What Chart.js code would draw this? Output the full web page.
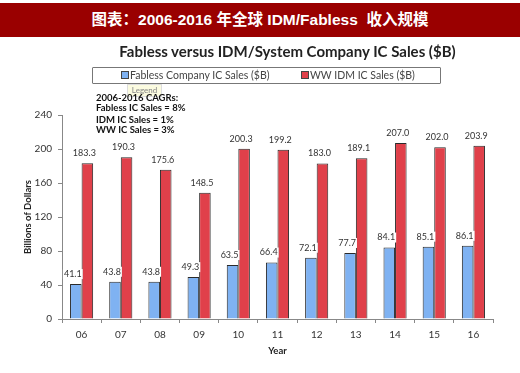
<!DOCTYPE html>
<html>
<head>
<meta charset="utf-8">
<script src="https://cdn.jsdelivr.net/npm/chart.js@4/dist/chart.umd.min.js"></script>
<style>
  body { margin: 0; background: #fff; }
  #wrap { position: relative; width: 520px; height: 373px; overflow: hidden; font-family: Lato, sans-serif; }
  #chart { position: absolute; left: 0; top: 0; }
  #band { position: absolute; left: 0; top: 3px; width: 520px; height: 34px; background: #9a0000;
          color: #fff; font: bold 15.5px "Liberation Sans", "Noto Sans CJK SC", sans-serif;
          line-height: 34px; text-align: center; white-space: pre; }
  #sub { position: absolute; left: 60px; width: 455px; top: 42px; text-align: center;
         font: bold 15px Lato, sans-serif; color: #222; }
  #legend { position: absolute; left: 92px; top: 67px; width: 347px; height: 15px; border: 1px solid #777;
            border-radius: 1px; font-size: 10.5px; color: #444; }
  #legend span { position: absolute; top: 1px; white-space: nowrap; }
  #legend i { display: inline-block; width: 6px; height: 6px; border: 1px solid #444; margin-right: 1px; vertical-align: 0px; }
  #tip { position: absolute; left: 127px; top: 84px; width: 33px; height: 11px; background: #fbfbe0;
         border: 1px solid #ddd; font-size: 8px; color: #888; text-align: center; line-height: 11px; }
  #cagr { position: absolute; left: 96px; top: 93px; font: bold 9.5px Lato, sans-serif; color: #111; line-height: 10px; }
</style>
</head>
<body>
<div id="wrap">
  <canvas id="chart" width="520" height="373"></canvas>
  <div id="band">图表：2006-2016 年全球 IDM/Fabless  收入规模</div>
  <div id="sub">Fabless versus IDM/System Company IC Sales ($B)</div>
  <div id="legend">
    <span style="left:28px"><i style="background:#7fb2f2"></i>Fabless Company IC Sales ($B)</span>
    <span style="left:208px"><i style="background:#e0404a"></i>WW IDM IC Sales ($B)</span>
  </div>
  <div id="tip">Legend</div>
  <div id="cagr">2006-2016 CAGRs:<br>Fabless IC Sales = 8%<br><div style="height:2px"></div>IDM IC Sales = 1%<br>WW IC Sales = 3%</div>
</div>
<script>
const years = ['06', '07', '08', '09', '10', '11', '12', '13', '14', '15', '16'];
const fablessSales = [41.1, 43.8, 43.8, 49.3, 63.5, 66.4, 72.1, 77.7, 84.1, 85.1, 86.1];
const idmSales = [183.3, 190.3, 175.6, 148.5, 200.3, 199.2, 183.0, 189.1, 207.0, 202.0, 203.9];
const yTicks = [0, 40, 80, 120, 160, 200, 240];

Chart.defaults.font.family = 'Lato';
Chart.defaults.color = '#333';

// value labels above each bar
const barLabels = {
    id: 'barLabels',
    afterDatasetsDraw(chart) {
        const ctx = chart.ctx;
        ctx.save();
        ctx.font = '9px Lato';
        ctx.textAlign = 'center';
        ctx.textBaseline = 'middle';
        chart.data.datasets.forEach((ds, di) => {
            chart.getDatasetMeta(di).data.forEach((bar, i) => {
                const txt = ds.data[i].toFixed(1);
                const x = bar.x - 3;
                const y = bar.y - 10;
                if (di === 0) {
                    const w = ctx.measureText(txt).width;
                    ctx.fillStyle = '#fff';
                    ctx.fillRect(x - w / 2 - 1, y - 5, w + 2, 10);
                }
                ctx.fillStyle = '#333';
                ctx.fillText(txt, x, y);
            });
        });
        ctx.restore();
    }
};

new Chart(document.getElementById('chart'), {
    type: 'bar',
    data: {
        labels: years,
        datasets: [{
            label: 'Fabless Company IC Sales ($B)',
            data: fablessSales,
            backgroundColor: '#7fb2f2',
            borderColor: '#2a2a2a',
            borderWidth: 1,
            categoryPercentage: 0.59,
            barPercentage: 1.0
        }, {
            label: 'WW IDM IC Sales ($B)',
            data: idmSales,
            backgroundColor: '#e0404a',
            borderColor: '#2a2a2a',
            borderWidth: 1,
            categoryPercentage: 0.59,
            barPercentage: 1.0
        }]
    },
    options: {
        responsive: false,
        animation: false,
        layout: { padding: { top: 115, right: 27, left: 0, bottom: 0 } },
        plugins: {
            legend: { display: false },
            tooltip: { enabled: false }
        },
        scales: {
            x: {
                grid: { drawOnChartArea: false, tickLength: 4, color: '#888' },
                border: { color: '#888' },
                ticks: { font: { size: 10 }, padding: 6, maxRotation: 0, color: '#333' },
                title: { display: true, text: 'Year', font: { size: 9.5, weight: 'bold' }, color: '#222', padding: { top: 0, bottom: 16 } },
                afterFit: (scale) => { scale.height = 54; }
            },
            y: {
                min: 0,
                max: 240,
                afterBuildTicks: (scale) => { scale.ticks = yTicks.map(v => ({ value: v })); },
                grid: { drawOnChartArea: false, tickLength: 4, color: '#888' },
                border: { color: '#888' },
                ticks: { font: { size: 10 }, padding: 6, color: '#333' },
                title: { display: true, text: 'Billions of Dollars', font: { size: 9.5, weight: 'bold' }, color: '#222', padding: { top: 22, bottom: 0 } },
                afterFit: (scale) => { scale.width = 62; }
            }
        }
    },
    plugins: [barLabels]
});
</script>
</body>
</html>
